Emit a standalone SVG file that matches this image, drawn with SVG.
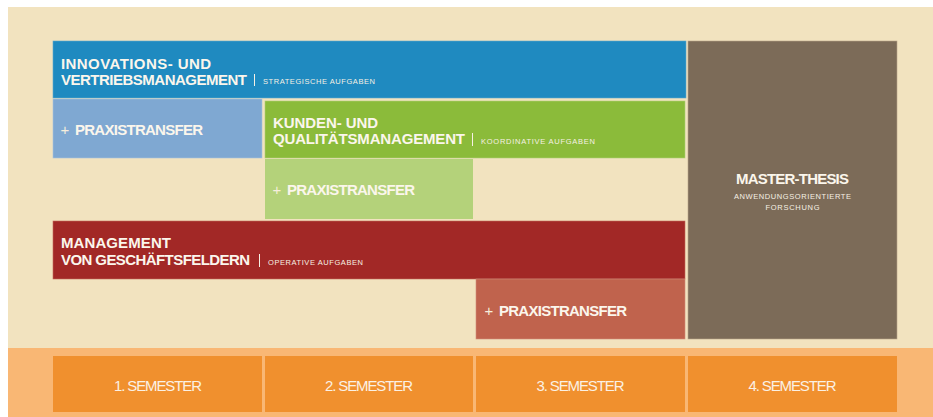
<svg xmlns="http://www.w3.org/2000/svg" width="933" height="417" viewBox="0 0 933 417">
<style>
.h{font-family:"Liberation Sans",Arial,sans-serif;font-weight:bold;font-size:15px;fill:#FBF6EC}
.s{font-family:"Liberation Sans",Arial,sans-serif;font-size:7.5px;fill:#F6F0E4}
.sep{stroke:#F6F0E4;stroke-width:1}
.p{font-family:"Liberation Sans",Arial,sans-serif;font-size:15px;fill:#F6EEDC}
.sem{font-family:"Liberation Sans",Arial,sans-serif;font-size:15px;fill:#FBF1E4}
</style>
<rect x="0" y="0" width="933" height="417" fill="#FFFFFF"/>
<rect x="8" y="7" width="925" height="341" fill="#F2E3BF"/>
<rect x="8" y="348" width="925" height="69" fill="#F9B774"/>

<g id="master-thesis">
<rect x="688" y="41" width="209" height="298" fill="#7C6B58" stroke="#B9A58A" stroke-width="0.6"/>
<text class="h" x="792.5" y="183.5" text-anchor="middle" textLength="113">MASTER-THESIS</text>
<text class="s" x="792.5" y="198.5" text-anchor="middle" font-size="8.3" textLength="117">ANWENDUNGSORIENTIERTE</text>
<text class="s" x="792.5" y="209.5" text-anchor="middle" font-size="8.3" textLength="54">FORSCHUNG</text>
</g>

<g id="innovations">
<rect x="53" y="41" width="633" height="57" fill="#1F8AC0" stroke="#5FA9CE" stroke-width="0.6"/>
<text class="h" x="61" y="68.8" textLength="150">INNOVATIONS- UND</text>
<text class="h" x="61" y="84.8" textLength="186">VERTRIEBSMANAGEMENT</text>
<line class="sep" x1="254.5" y1="74" x2="254.5" y2="86"/>
<text class="s" x="263" y="83.5" textLength="112">STRATEGISCHE AUFGABEN</text>
</g>

<g id="praxis-1">
<rect x="53" y="99" width="209" height="59" fill="#7FA8D2" stroke="#A9C4DE" stroke-width="0.6"/>
<text class="p" x="60.5" y="135">+</text>
<text class="h" x="75" y="135" textLength="128">PRAXISTRANSFER</text>
</g>

<g id="kunden">
<rect x="265" y="101" width="420" height="57" fill="#8BBB3A" stroke="#B0CF7A" stroke-width="0.6"/>
<text class="h" x="273" y="128" textLength="105">KUNDEN- UND</text>
<text class="h" x="273" y="144" textLength="192">QUALITÄTSMANAGEMENT</text>
<line class="sep" x1="472.5" y1="133" x2="472.5" y2="146"/>
<text class="s" x="481" y="144" font-size="8" textLength="114">KOORDINATIVE AUFGABEN</text>
</g>

<g id="praxis-2">
<rect x="265" y="159" width="208" height="60" fill="#B4D27A"/>
<text class="p" x="272.5" y="195">+</text>
<text class="h" x="287" y="195" textLength="128">PRAXISTRANSFER</text>
</g>

<g id="geschaeftsfelder">
<rect x="53" y="221" width="632" height="58" fill="#A22826" stroke="#C26A5A" stroke-width="0.6"/>
<text class="h" x="61" y="248" textLength="110">MANAGEMENT</text>
<text class="h" x="61" y="265" textLength="189">VON GESCHÄFTSFELDERN</text>
<line class="sep" x1="259.5" y1="254" x2="259.5" y2="267"/>
<text class="s" x="268" y="264.5" font-size="8" textLength="95">OPERATIVE AUFGABEN</text>
</g>

<g id="praxis-3">
<rect x="476" y="279" width="209" height="60" fill="#C0634D" stroke="#D08E7A" stroke-width="0.6"/>
<text class="p" x="484.5" y="316">+</text>
<text class="h" x="499" y="316" textLength="128">PRAXISTRANSFER</text>
</g>

<g id="semester-1">
<rect x="53" y="356" width="209" height="56" fill="#F0902E"/>
<text class="sem" x="158" y="391" text-anchor="middle" textLength="88">1. SEMESTER</text>
</g>
<g id="semester-2">
<rect x="265" y="356" width="208" height="56" fill="#F0902E"/>
<text class="sem" x="369" y="391" text-anchor="middle" textLength="88">2. SEMESTER</text>
</g>
<g id="semester-3">
<rect x="476" y="356" width="209" height="56" fill="#F0902E"/>
<text class="sem" x="580.5" y="391" text-anchor="middle" textLength="88">3. SEMESTER</text>
</g>
<g id="semester-4">
<rect x="688" y="356" width="209" height="56" fill="#F0902E"/>
<text class="sem" x="792.5" y="391" text-anchor="middle" textLength="88">4. SEMESTER</text>
</g>

<g id="connectors"></g>
</svg>
